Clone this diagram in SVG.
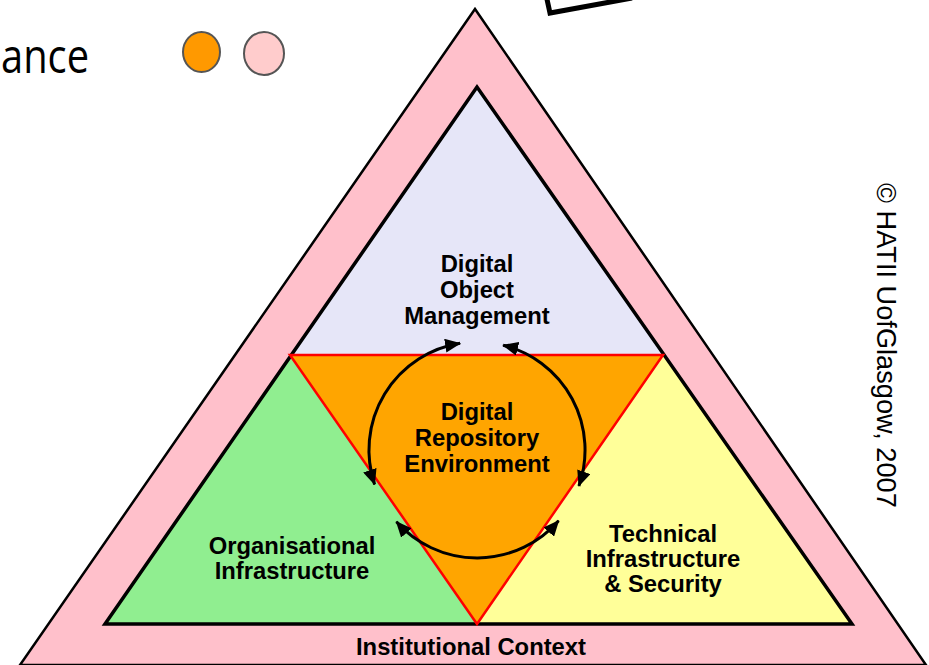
<svg xmlns="http://www.w3.org/2000/svg" width="929" height="665" viewBox="0 0 929 665">
<defs>
<style>
.lbl{font-family:"Liberation Sans",Arial,sans-serif;font-weight:bold;font-size:23.8px;fill:#000;text-anchor:middle}
.arc{fill:none;stroke:#000;stroke-width:3;marker-start:url(#ah);marker-end:url(#ah)}
</style>
<marker id="ah" viewBox="0 0 16 14" refX="15" refY="7" markerWidth="16" markerHeight="14" markerUnits="userSpaceOnUse" orient="auto-start-reverse">
<path d="M0,0 L16,7 L0,14 Z" fill="#000"/>
</marker>
</defs>
<rect width="929" height="665" fill="#fff"/>
<text x="1" y="73" font-family="Open Sans,Liberation Sans,sans-serif" font-size="48" textLength="88" lengthAdjust="spacingAndGlyphs" fill="#000">ance</text>
<g id="dot-orange"><ellipse cx="201.5" cy="52" rx="18.5" ry="20" fill="#FF9900" stroke="#555" stroke-width="2"/></g>
<g id="dot-pink"><ellipse cx="264" cy="53.5" rx="20" ry="21.5" fill="#FFCCCC" stroke="#555" stroke-width="2"/></g>
<path d="M546.5,-3 L550,13 L632,-2" fill="none" stroke="#000" stroke-width="5" stroke-linejoin="miter"/>
<g id="institutional-context">
<polygon points="475,9 20,665 926,665" fill="#FFC0CB" stroke="#000" stroke-width="2.5" stroke-linejoin="miter"/>
<text class="lbl" x="471" y="655">Institutional Context</text>
</g>
<g id="digital-object-management">
<polygon points="477,87 290,355 663,355" fill="#E6E6F8"/>
<text class="lbl" x="477" y="272">Digital</text>
<text class="lbl" x="477" y="298">Object</text>
<text class="lbl" x="477" y="324">Management</text>
</g>
<g id="organisational-infrastructure">
<polygon points="290,355 477,624 105,624" fill="#90EE90"/>
<text class="lbl" x="292" y="554">Organisational</text>
<text class="lbl" x="292" y="579">Infrastructure</text>
</g>
<g id="technical-infrastructure">
<polygon points="663,355 852,624 477,624" fill="#FFFF99"/>
<text class="lbl" x="663" y="542">Technical</text>
<text class="lbl" x="663" y="567">Infrastructure</text>
<text class="lbl" x="663" y="592">&amp; Security</text>
</g>
<polygon points="477,87 105,624 852,624" fill="none" stroke="#000" stroke-width="3.5" stroke-linejoin="miter"/>
<g id="digital-repository-environment">
<polygon points="290,355 663,355 477,624" fill="#FFA500" stroke="#FF0000" stroke-width="2.5" stroke-linejoin="miter"/>
<text class="lbl" x="477" y="420">Digital</text>
<text class="lbl" x="477" y="446">Repository</text>
<text class="lbl" x="477" y="472">Environment</text>
</g>
<g id="connectors">
<path class="arc" d="M460.1,343.3 A108,108 0 0 0 374.6,484.4"/>
<path class="arc" d="M503.1,345.2 A108,108 0 0 1 578.9,485.9"/>
<path class="arc" d="M396.4,521.8 A108,108 0 0 0 558.6,520.7"/>
</g>
<text transform="translate(877,183) rotate(90)" font-family="Liberation Sans,Arial,sans-serif" font-size="27.2" fill="#000">© HATII UofGlasgow, 2007</text>
</svg>
